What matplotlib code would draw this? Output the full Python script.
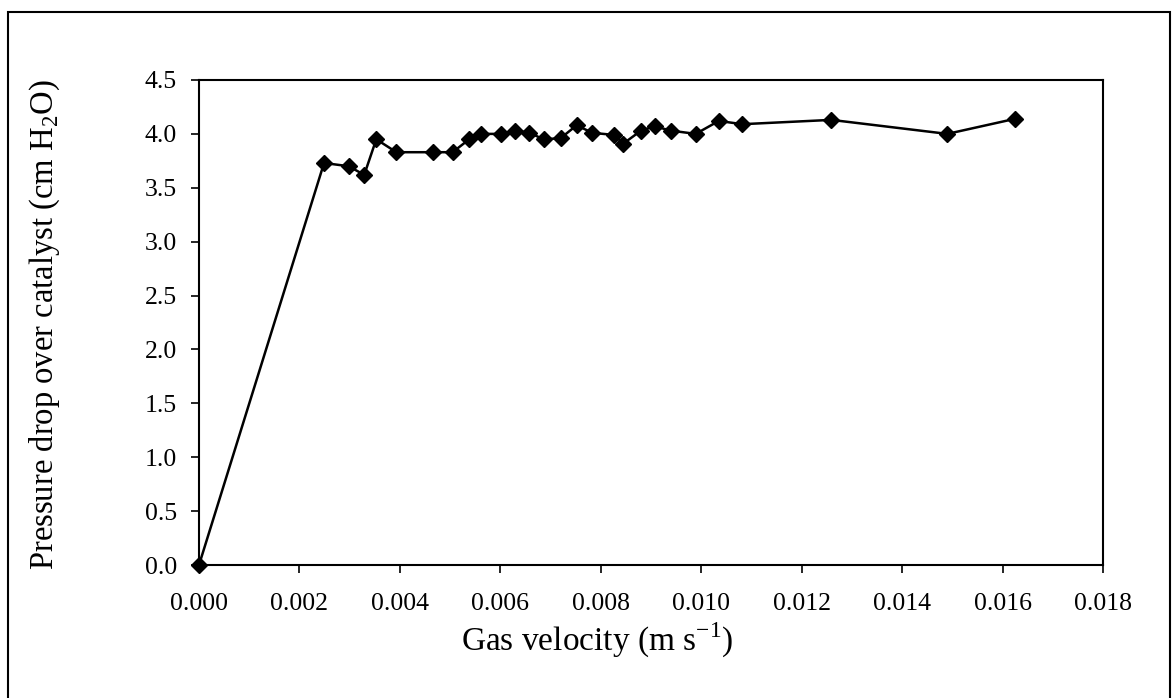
import matplotlib.pyplot as plt
from matplotlib.patches import Rectangle

# gas velocity (m/s) and pressure drop (cm H2O)
velocity = [0.0, 0.00249, 0.00298, 0.00329, 0.00353, 0.00393, 0.00466, 0.00505,
            0.00538, 0.00561, 0.00601, 0.00630, 0.00658, 0.00686, 0.00720,
            0.00752, 0.00783, 0.00827, 0.00845, 0.00880, 0.00907, 0.00940,
            0.00989, 0.01035, 0.01082, 0.01259, 0.01490, 0.01625]
pressure = [0.0, 3.73, 3.70, 3.62, 3.95, 3.83, 3.83, 3.83,
            3.95, 4.00, 4.00, 4.03, 4.01, 3.95, 3.96,
            4.08, 4.01, 3.99, 3.91, 4.03, 4.07, 4.03,
            4.00, 4.12, 4.09, 4.13, 4.00, 4.14]

x_ticks = [0.000, 0.002, 0.004, 0.006, 0.008, 0.010, 0.012, 0.014, 0.016, 0.018]
y_ticks = [0.0, 0.5, 1.0, 1.5, 2.0, 2.5, 3.0, 3.5, 4.0, 4.5]

plt.rcParams['font.family'] = ['Liberation Serif', 'DejaVu Serif']
plt.rcParams['mathtext.fontset'] = 'custom'
plt.rcParams['mathtext.rm'] = 'Liberation Serif'

fig = plt.figure(figsize=(11.73, 6.98), dpi=100)
ax = fig.add_axes([199 / 1173, 1 - 565 / 698, 904 / 1173, 485 / 698])

ax.plot(velocity, pressure, color='black', lw=1.8, marker='D',
        markersize=8.5, markerfacecolor='black', markeredgecolor='black',
        clip_on=False, zorder=3)

ax.set_xlim(0, 0.018)
ax.set_ylim(0, 4.5)
ax.set_xticks(x_ticks)
ax.set_xticklabels([f"{v:.3f}" for v in x_ticks])
ax.set_yticks(y_ticks)
ax.set_yticklabels([f"{v:.1f}" for v in y_ticks])
ax.tick_params(direction='out', length=6, width=1.2, labelsize=18.5, colors='black')
ax.tick_params(axis='x', pad=14)
ax.tick_params(axis='y', pad=10)
for s in ax.spines.values():
    s.set_linewidth(1.5)
    s.set_color('black')

ax.set_xlabel(r"Gas velocity (m s$^{\mathregular{-1}}$)", fontsize=24, va='center')
ax.set_ylabel(r"Pressure drop over catalyst (cm H$_{\mathregular{2}}$O)", fontsize=23.5, va='center')
ax.xaxis.set_label_coords((597 - 199) / 904, (565 - 640) / 485)
ax.yaxis.set_label_coords((45 - 199) / 904, (565 - 325) / 485)

# outer frame around the chart
fig.patches.append(Rectangle((8 / 1173, -0.02), 1162 / 1173, 1.02 - 12 / 698,
                             transform=fig.transFigure, fill=False,
                             edgecolor='black', lw=1.5))

fig.savefig("out.png", dpi=100)
